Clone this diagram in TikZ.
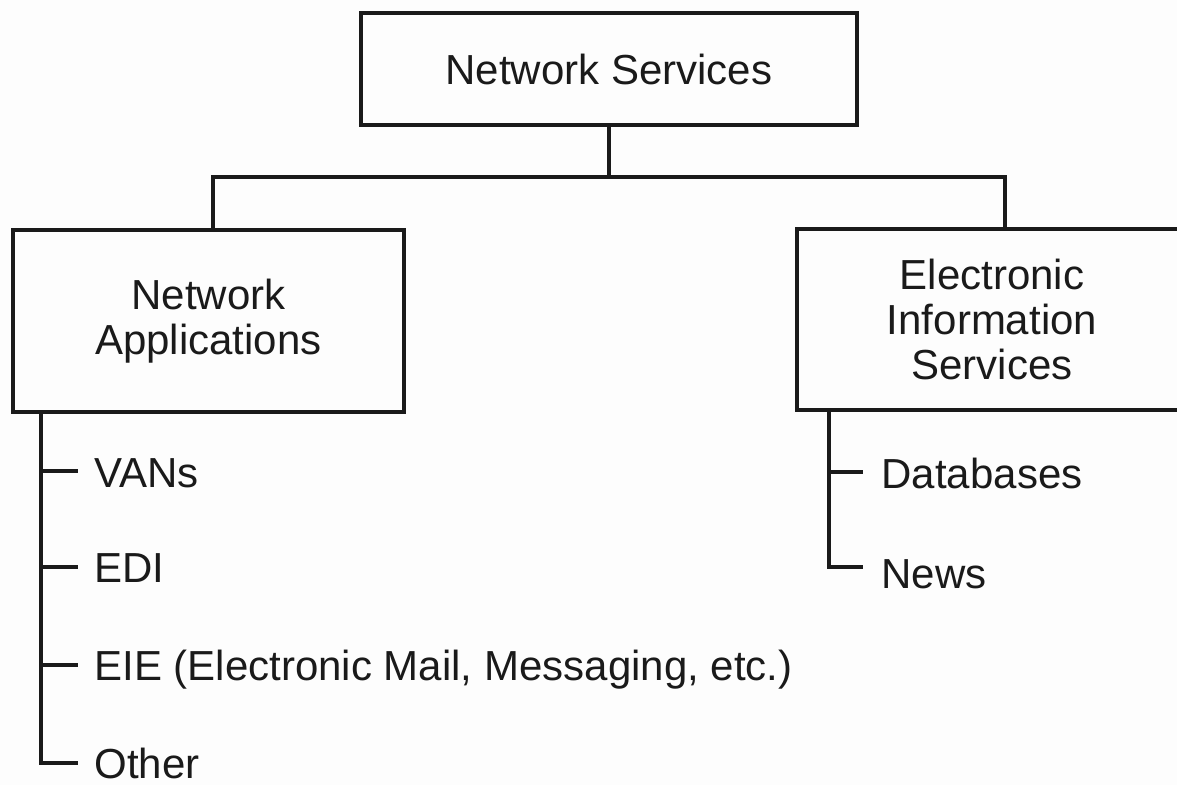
\documentclass[tikz,border=0pt]{standalone}
\usepackage{fontspec}
\setmainfont{Liberation Sans}
\usetikzlibrary{calc}
\definecolor{ink}{HTML}{1A1A1A}
\definecolor{paper}{HTML}{FDFDFD}
\begin{document}
\begin{tikzpicture}[x=1pt, y=-1pt,
  line width=3.2pt, draw=ink,
  textfont/.style={font=\fontsize{42}{45}\selectfont, text=ink},
  box/.style={draw=ink, rectangle, align=center, inner sep=0pt, textfont},
  item/.style={anchor=base west, inner sep=0pt, textfont},
  link/.style={draw=ink, line width=3.2pt}
]
% page
\fill[paper] (0,0) rectangle (1177,785);
\useasboundingbox (0,0) rectangle (1177,785);
\clip (0,0) rectangle (1177,785);

% boxes
\node[box, minimum width=496pt, minimum height=112pt] (top) at (609,69) {Network Services};
\node[box, minimum width=391pt, minimum height=182pt] (apps) at (208.5,321) {Network\\Applications};
\node[box, minimum width=390pt, minimum height=181pt] (eis) at (992,319.5) {Electronic\\Information\\Services};

% branch from the top box to the two boxes below
\coordinate (busL) at (213,177);
\coordinate (busR) at (1005,177);
\draw[link] (top.south) -- (top.south |- busL);
\draw[link] (apps.north -| busL) -- (busL) -- (busR) -- (eis.north -| busR);

% list under Network Applications
\node[item] (vans)  at (93,487) {VANs};
\node[item] (edi)   at (93,582) {EDI};
\node[item] (eie)   at (93,680) {EIE (Electronic Mail, Messaging, etc.)};
\node[item] (other) at (93,778) {Other};
\coordinate (lspine) at (41,0);
\coordinate (t1) at ([shift={(-15pt,16pt)}]vans.base west);
\coordinate (t2) at ([shift={(-15pt,15pt)}]edi.base west);
\coordinate (t3) at ([shift={(-15pt,15pt)}]eie.base west);
\coordinate (t4) at ([shift={(-15pt,15pt)}]other.base west);
\draw[link] (apps.south -| lspine) |- (t4);
\draw[link] (t1 -| lspine) -- (t1);
\draw[link] (t2 -| lspine) -- (t2);
\draw[link] (t3 -| lspine) -- (t3);

% list under Electronic Information Services
\node[item] (db)   at (880,488) {Databases};
\node[item] (news) at (880,588) {News};
\coordinate (rspine) at (829,0);
\coordinate (r1) at ([shift={(-17pt,16pt)}]db.base west);
\coordinate (r2) at ([shift={(-17pt,21pt)}]news.base west);
\draw[link] (eis.south -| rspine) |- (r2);
\draw[link] (r1 -| rspine) -- (r1);
\end{tikzpicture}
\end{document}
